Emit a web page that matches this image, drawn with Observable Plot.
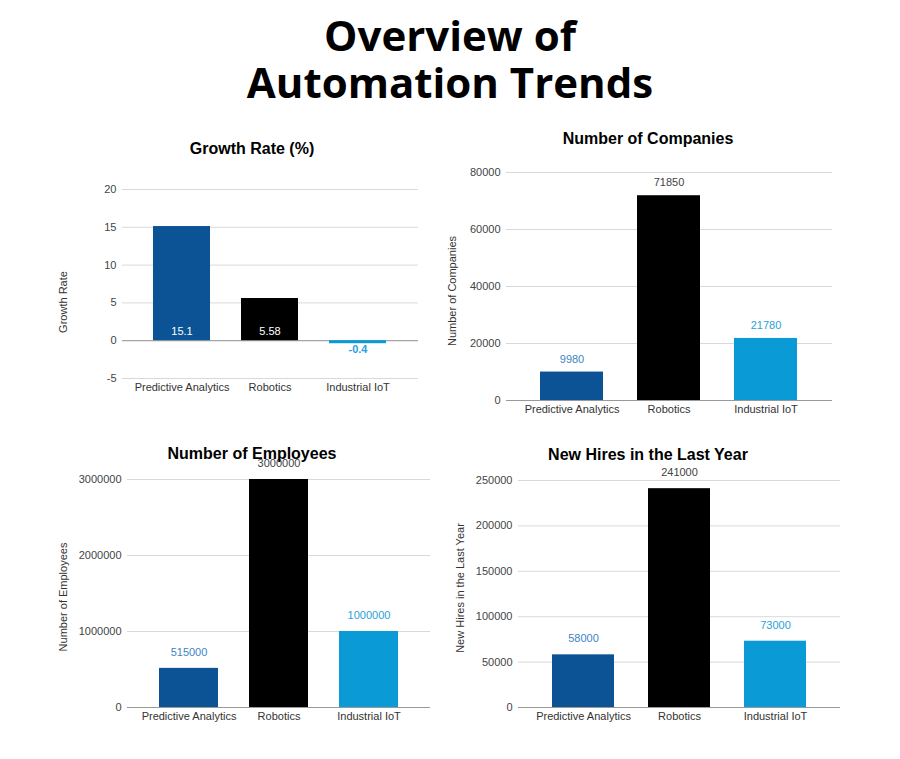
<!DOCTYPE html>
<html><head><meta charset="utf-8">
<script src="https://cdn.jsdelivr.net/npm/d3@7"></script>
<script src="https://cdn.jsdelivr.net/npm/@observablehq/plot@0.6"></script>
<style>
body{margin:0;background:#fff;}
#root{position:relative;width:900px;height:759px;overflow:hidden;font-family:"Liberation Sans",Arial,sans-serif;background:#fff;}
.main{position:absolute;left:0;width:900px;top:11px;text-align:center;font-family:"Open Sans",sans-serif;font-weight:700;font-size:42px;line-height:47px;letter-spacing:0px;color:#000;}
.ct{position:absolute;font-weight:bold;font-size:16px;line-height:20px;transform:translateX(-50%);white-space:nowrap;color:#000;}
.yl{position:absolute;font-size:11px;line-height:12px;color:#333;white-space:nowrap;transform:translate(-50%,-50%) rotate(-90deg);}
.panel{position:absolute;}
</style></head>
<body><div id="root"></div>
<script>
const categories = ["Predictive Analytics", "Robotics", "Industrial IoT"];
const growthRate = [15.1, 5.58, -0.4];
const companies = [9980, 71850, 21780];
const employees = [515000, 3000000, 1000000];
const newHires = [58000, 241000, 73000];
const barColors = ["#0b5394", "#000000", "#0a9bd7"];
const labelColors = ["#3d85c6", "#444444", "#2a9fd9"];
const growthTicks = [-5, 0, 5, 10, 15, 20];
const companyTicks = [0, 20000, 40000, 60000, 80000];
const employeeTicks = [0, 1000000, 2000000, 3000000];
const hireTicks = [0, 50000, 100000, 150000, 200000, 250000];

const root = document.getElementById("root");

function rows(values) {
  return categories.map((c, i) => ({cat: c, value: values[i], color: barColors[i], lc: labelColors[i]}));
}

function panel(cfg) {
  const data = rows(cfg.values);
  const marks = [
    Plot.gridY(cfg.ticks, {stroke: "#d9d9d9", strokeOpacity: 1}),
    Plot.ruleY([0], {stroke: "#999"}),
    Plot.barY(data, {x: "cat", y: "value", fill: "color"}),
    Plot.axisY(cfg.ticks, {tickSize: 0, tickPadding: 6, tickFormat: d => String(d), label: null, fontSize: 11, fill: "#444"}),
    Plot.axisX({tickSize: 0, tickPadding: 5, label: null, fontSize: 11, fill: "#333"})
  ];
  if (cfg.inside) {
    marks.push(Plot.text(data.filter(d => d.value >= 0), {x: "cat", y: 0, text: d => String(d.value), fill: "#fff", dy: -9, fontSize: 11}));
    marks.push(Plot.text(data.filter(d => d.value < 0), {x: "cat", y: 0, text: d => String(d.value), fill: "#2a9fd9", dy: 9, fontSize: 11, fontWeight: "bold"}));
  } else {
    marks.push(Plot.text(data, {x: "cat", y: "value", text: d => String(d.value), fill: "lc", dy: cfg.dy, fontSize: 11}));
  }
  const svg = Plot.plot({
    width: cfg.w, height: cfg.h,
    marginLeft: cfg.mL, marginRight: cfg.mR, marginTop: cfg.mT, marginBottom: cfg.mB,
    style: {fontSize: "11px", fontFamily: "'Liberation Sans', Arial, sans-serif", color: "#444", background: "transparent", overflow: "visible"},
    x: {domain: categories, padding: 0.35, axis: null},
    y: {domain: cfg.domain, axis: null},
    color: {type: "identity"},
    marks
  });
  const wrap = document.createElement("div");
  wrap.className = "panel";
  wrap.style.left = cfg.left + "px";
  wrap.style.top = cfg.top + "px";
  wrap.appendChild(svg);
  root.appendChild(wrap);
  const yl = document.createElement("div");
  yl.className = "yl";
  yl.textContent = cfg.ylabel;
  yl.style.left = cfg.lx + "px";
  yl.style.top = cfg.ly + "px";
  root.appendChild(yl);
  const t = document.createElement("div");
  t.className = "ct";
  t.textContent = cfg.title;
  t.style.left = cfg.tx + "px";
  t.style.top = (cfg.ty - 10) + "px";
  root.appendChild(t);
}

panel({title: "Growth Rate (%)", tx: 252, ty: 149, values: growthRate, ticks: growthTicks, domain: [-5, 20], ylabel: "Growth Rate", lx: 63, ly: 302,
  left: 50, top: 170, w: 380, h: 230, mL: 72, mR: 12, mT: 19, mB: 22, inside: true});
panel({title: "Number of Companies", tx: 648, ty: 139, values: companies, ticks: companyTicks, domain: [0, 80000], ylabel: "Number of Companies", lx: 452, ly: 291,
  left: 440, top: 160, w: 400, h: 260, mL: 66, mR: 8, mT: 12, mB: 20, dy: -13});
panel({title: "Number of Employees", tx: 252, ty: 454, values: employees, ticks: employeeTicks, domain: [0, 3000000], ylabel: "Number of Employees", lx: 63, ly: 597,
  left: 50, top: 440, w: 390, h: 290, mL: 77, mR: 10, mT: 39, mB: 23, dy: -16});
panel({title: "New Hires in the Last Year", tx: 648, ty: 455, values: newHires, ticks: hireTicks, domain: [0, 250000], ylabel: "New Hires in the Last Year", lx: 460, ly: 588,
  left: 440, top: 440, w: 402, h: 290, mL: 78, mR: 2, mT: 40, mB: 23, dy: -16});

const mainTitle = document.createElement("div");
mainTitle.className = "main";
mainTitle.innerHTML = "Overview of<br>Automation Trends";
root.appendChild(mainTitle);
</script>
</body></html>
